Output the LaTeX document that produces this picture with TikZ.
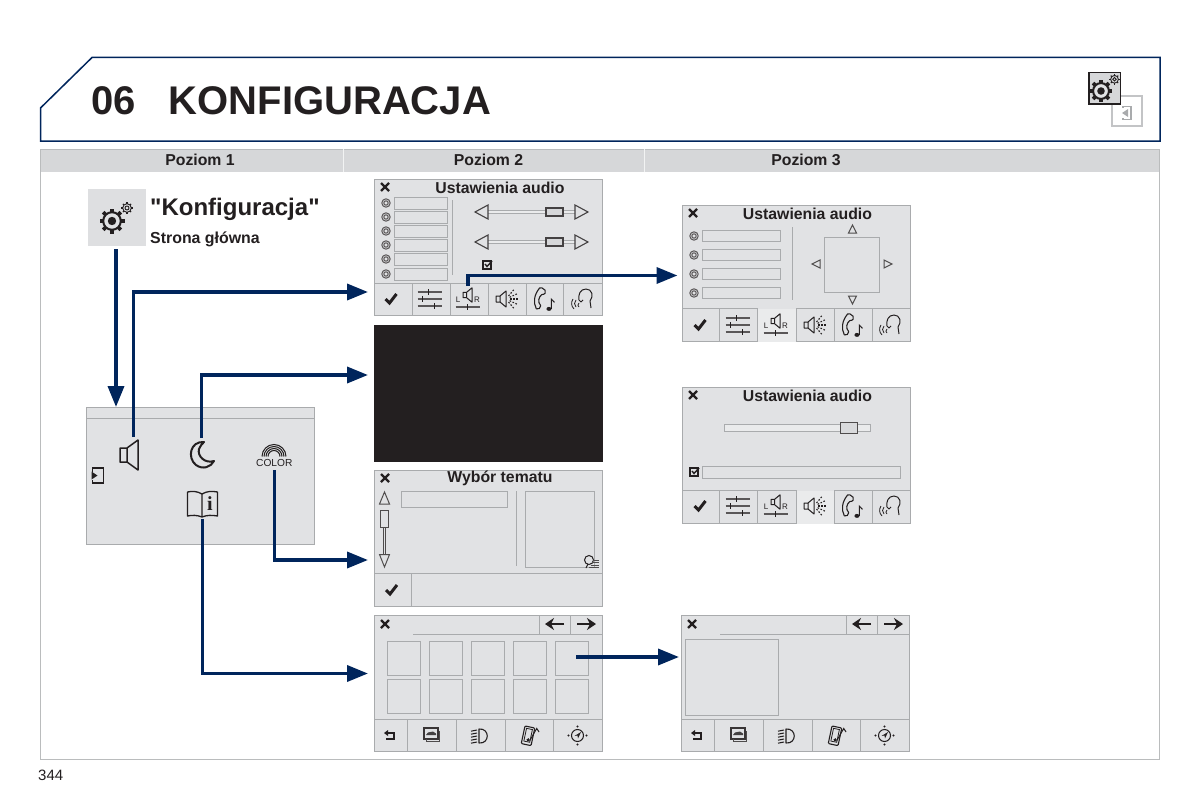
\documentclass[tikz,border=0pt]{standalone}
\usepackage{fontspec}
\setmainfont{Liberation Sans}
\newfontfamily\plainf{Liberation Sans}
\newfontfamily\serifi{Liberation Serif}
\usetikzlibrary{arrows.meta}
\definecolor{panel}{HTML}{E1E2E4}
\definecolor{panelhi}{HTML}{EAEBEC}
\definecolor{frame}{HTML}{A9ABAD}
\definecolor{navy}{HTML}{00255C}
\definecolor{band}{HTML}{D6D7D9}
\definecolor{ink}{HTML}{231F20}
\definecolor{darkscreen}{HTML}{231F20}
\tikzset{
 screenbox/.style={draw=frame,fill=panel,line width=1pt,minimum width=228.5pt,minimum height=136.5pt,anchor=north west,inner sep=0pt,outer sep=0pt},
 flow/.style={draw=navy,line width=3.6pt,-{Triangle[length=21pt,width=16pt]}},
 fine/.style={draw=frame,line width=1pt},
 field/.style={draw=frame,line width=1pt,fill=panel},
 icn/.style={draw=ink,line width=1pt,line join=round},
 title/.style={font=\bfseries\fontsize{15.8}{16}\selectfont,text=ink,inner sep=0pt},
 lab/.style={font=\bfseries\fontsize{15.8}{16}\selectfont,text=ink,inner sep=0pt},
 navarrow/.style={draw=ink,line width=2.4pt,-{Stealth[length=9pt,width=12pt]}}
}
\newcommand\icrossx[2]{\begin{scope}[shift={(#1,#2)}]\draw[ink,line width=2.4pt] (-4,-4)--(4,4) (-4,4)--(4,-4);\end{scope}}
\newcommand\icheckm[2]{\begin{scope}[shift={(#1,#2)}]\draw[ink,line width=3pt,line join=miter] (-5.5,0)--(-1.5,4)--(5.5,-5);\end{scope}}
\newcommand\isliders[2]{\begin{scope}[shift={(#1,#2)}]
 \foreach \yy/\kk in {-7/-1,0/-7,7/5}{\draw[ink!75,line width=2pt] (-12,\yy)--(12,\yy);\draw[ink,line width=1.8pt] (\kk,\yy-3)--(\kk,\yy+3);}
\end{scope}}
\newcommand\ispeaksmall[3]{\begin{scope}[shift={(#1,#2)},scale=#3]
 \draw[icn] (-5,-3)--(-1,-3)--(5,-8)--(5,8)--(-1,3)--(-5,3)--cycle (-1,-3)--(-1,3);
\end{scope}}
\newcommand\ilr[2]{\begin{scope}[shift={(#1,#2)}]
 \ispeaksmall{0}{-4}{0.9}
 \node[font=\fontsize{8}{8}\selectfont,text=ink,inner sep=0pt] at (-9.5,1) {L};
 \node[font=\fontsize{8}{8}\selectfont,text=ink,inner sep=0pt] at (9.5,1) {R};
 \draw[ink!75,line width=2pt] (-12,8)--(12,8);\draw[ink,line width=1.8pt] (0,5)--(0,11);
\end{scope}}
\newcommand\iwaves[2]{\begin{scope}[shift={(#1,#2)}]
 \ispeaksmall{-5}{0}{1}
 \foreach \a in {-50,-25,0,25,50}{\draw[ink,line width=1.1pt,dash pattern=on 1.6pt off 1.6pt] (\a:4)--(\a:13);}
\end{scope}}
\newcommand\iphonen[2]{\begin{scope}[shift={(#1,#2)},scale=1.1]
 \draw[icn,line width=1.1pt] (-4,-10) .. controls (-9,-4) and (-10,3) .. (-7,9) .. controls (-5,10) and (-3,8) .. (-3,6) .. controls (-6,3) and (-5,-2) .. (-2,-4) .. controls (1,-4) and (2,-6) .. (1,-8) .. controls (-1,-10) and (-3,-11) .. (-4,-10) -- cycle;
 \fill[ink] (4.5,9) ellipse (2.3 and 1.8);
 \draw[ink,line width=1pt] (6.6,9)--(6.6,0)--(9.5,3);
\end{scope}}
\newcommand\iheadt[2]{\begin{scope}[shift={(#1,#2)}]
 \draw[icn] (-3,1) .. controls (-4,-4) and (-2,-10) .. (4,-10) .. controls (10,-10) and (12,-3) .. (8,2) -- (9,9) (-3,1) -- (-1,3) -- (1,1);
 \draw[icn,line width=.8pt] (-6,1) .. controls (-8,3) and (-8,6) .. (-6,8) (-9,0) .. controls (-11,3) and (-11,7) .. (-8,10) (-3,4) .. controls (-5,5) and (-4,8) .. (-3,8);
\end{scope}}
\newcommand\iradio[2]{\begin{scope}[shift={(#1,#2)}]\draw[ink!75,line width=1pt] (0,0) circle (4.2) (0,0) circle (2.2);\end{scope}}
\newcommand\icheckbox[2]{\begin{scope}[shift={(#1,#2)}]\draw[ink,line width=1.4pt] (-4,-4) rectangle (4,4);\draw[ink,line width=1.4pt] (-2,-1)--(0,1.5)--(5,-4);\end{scope}}
\newcommand\hslider[2]{\begin{scope}[shift={(#1,#2)}]
 \draw[frame,line width=3.4pt] (13,0)--(100,0);\draw[panelhi,line width=1.4pt] (13,0)--(100,0);
 \draw[ink!85,line width=1.1pt] (13,-7)--(13,7)--(0,0)--cycle;
 \draw[ink!85,line width=1.1pt,fill=panel] (100,-7)--(100,7)--(113,0)--cycle;
 \draw[ink!85,line width=1.1pt,fill=panel!80!frame] (71,-4) rectangle (88,4);
\end{scope}}
\newcommand\iback[2]{\begin{scope}[shift={(#1,#2)}]\draw[ink,line width=1.7pt] (-3,-3)--(4,-3)--(4,3)--(-4,3);\fill[ink] (-6,-3)--(-2,-6)--(-2,0)--cycle;\end{scope}}
\newcommand\icar[2]{\begin{scope}[shift={(#1,#2)}]
 \draw[ink!90,line width=1.1pt] (-7,-6) rectangle (7,5);\draw[ink!80,line width=.8pt] (-5,5)--(-5,7.5)--(8.5,7.5)--(8.5,-3);
 \fill[ink!85] (-5,1)--(-3,-1.5)--(2,-2.5)--(5,-.5)--(5,1)--cycle;
\end{scope}}
\newcommand\ilight[2]{\begin{scope}[shift={(#1,#2)}]
 \draw[icn,line width=1.1pt] (-1,-7) .. controls (10,-8) and (10,8) .. (-1,7) -- cycle;
 \foreach \yy in {-6,-3,0,3,6}{\draw[ink,line width=1pt] (-9,\yy+1.2)--(-3,\yy);}
\end{scope}}
\newcommand\iphonem[2]{\begin{scope}[shift={(#1,#2)},rotate=-12]
 \draw[icn,line width=1.1pt,rounded corners=1pt] (-6,-9) rectangle (4,9);\draw[ink,line width=.8pt] (-4,-7) rectangle (2,6);
 \fill[ink] (0,4) circle (1.8);
 \draw[ink,line width=1pt] (1.8,4)--(6,-9)--(9,-6);
\end{scope}}
\newcommand\icompass[2]{\begin{scope}[shift={(#1,#2)}]
 \draw[ink,line width=1pt] (0,0) circle (6);\fill[ink] (-3,.5)--(3.5,-3.5)--(.5,3)--(0,0)--cycle;
 \foreach \a/\b in {0/-9,0/9,-9/0,9/0}{\fill[ink] (\a,\b) circle (1.1);}
\end{scope}}
\newcommand\igear[3]{\begin{scope}[shift={(#1,#2)}]
 \foreach \a in {0,45,...,315}{\draw[ink,line width=#3*.36pt] (\a:#3*.8)--(\a:#3*1.25);}
 \draw[ink,fill=panel,line width=#3*.2pt] (0,0) circle (#3*.88);
 \fill[ink] (0,0) circle (#3*.42);
\end{scope}}
\newcommand\igears[3]{\begin{scope}[shift={(#1,#2)},scale=#3]
 \igear{0}{0}{10}
 \foreach \a in {0,45,...,315}{\draw[ink,line width=1.1pt] (15,-13)+(\a:4.2)--++(\a:5.8);}
 \draw[ink,line width=.9pt] (15,-13) circle (4.3) (15,-13) circle (2);
 \end{scope}}
\newcommand\iexit[4]{\begin{scope}[shift={(#1,#2)}]
 \draw[#3,line width=#4] (-5,-4)--(-5,-7.5)--(6,-7.5)--(6,7.5)--(-5,7.5)--(-5,4);
 \fill[#3] (-6,-4)--(0,0)--(-6,4)--cycle;
\end{scope}}
\begin{document}
\begin{tikzpicture}[x=1pt,y=-1pt]
\useasboundingbox[fill=white] (0,0) rectangle (1200,800);
% header
\draw[navy,line width=1.5pt] (40.5,141)--(40.5,108)--(92,57.5)--(1160,57.5)--(1160,141)--cycle;
\node[anchor=base west,font=\bfseries\fontsize{40}{40}\selectfont,text=ink,inner sep=0pt] (chapno) at (91.5,114.5) {06};
\node[anchor=base west,font=\bfseries\fontsize{40}{40}\selectfont,text=ink,inner sep=0pt] (chaptitle) at (168.5,114.5) {KONFIGURACJA};
% top right
\draw[frame!70,fill=white,line width=1.6pt] (1112,96) rectangle (1142,126);
\begin{scope}[shift={(1127,113)}]
 \draw[frame,line width=1.1pt] (-4,-5)--(-4,-6.5)--(4,-6.5)--(4,6.5)--(-4,6.5)--(-4,5);
 \fill[frame] (1,-4)--(1,4)--(-5,0)--cycle;
\end{scope}
\draw[ink,fill=band,line width=1.1pt] (1089,72.5) rectangle (1120.5,104);
\igears{1101}{91}{0.9}
% table
\fill[band] (40,149) rectangle (1160,172);
\draw[frame!80,line width=.8pt] (40.4,149)--(40.4,759.6)--(1159.6,759.6)--(1159.6,149)--cycle;
\draw[white!85!frame,line width=.8pt] (343,149)--(343,172) (644,149)--(644,172);
\node[lab] (p1) at (200,160) {Poziom 1};
\node[lab] (p2) at (488.5,160) {Poziom 2};
\node[lab] (p3) at (806,160) {Poziom 3};
% tile
\fill[band!80!white] (88,189) rectangle (146,246);
\igears{112}{221}{1}
\node[anchor=base west,font=\plainf\bfseries\fontsize{24}{24}\selectfont,text=ink,inner sep=0pt] (konf) at (150,215) {"Konfiguracja"};
\node[anchor=base west,font=\bfseries\fontsize{15.9}{16}\selectfont,text=ink,inner sep=0pt] (glow) at (150,243) {Strona główna};
% main panel
\node[screenbox,minimum height=137pt] (main) at (86,407) {};
\draw[fine] (86,418)--(315,418);
\iexit{97.5}{475.5}{ink}{1.4pt}
\draw[icn,line width=1.5pt] (120,448)--(127,448)--(138,440)--(138,470)--(127,462)--(120,462)--cycle (127,448)--(127,462);
\draw[ink,line width=2pt,line join=round] (204,442) .. controls (190,441) and (187,458) .. (196,465) .. controls (203,470) and (211,467) .. (214,461) .. controls (205,464) and (197,456) .. (199,449) .. controls (200,446) and (202,444) .. (204,442) -- cycle;
\foreach \r in {6,8,10,12}{\draw[ink,line width=1pt] (274-\r,456.5) arc (180:360:\r);}
\node[font=\fontsize{10.2}{10}\selectfont,text=ink,inner sep=0pt] (colortxt) at (274.3,462.5) {COLOR};
\draw[ink,line width=1.3pt,line join=round] (202,494) .. controls (197,491) and (192,491) .. (187.5,492) -- (187.5,516) .. controls (192,515) and (197,515) .. (202,517) .. controls (207,515) and (212,515) .. (217.5,516) -- (217.5,492) .. controls (212,491) and (207,491) .. (202,494) -- (202,517);
\node[font=\serifi\bfseries\fontsize{20}{20}\selectfont,text=ink,inner sep=0pt] (infoi) at (209.8,504) {i};
% screens
\node[screenbox] (s1) at (374,179) {};
\node[screenbox,fill=darkscreen,draw=darkscreen] (s2) at (374,325) {};
\node[screenbox] (s3) at (374,470) {};
\node[screenbox] (s4) at (374,615) {};
\node[screenbox] (s5) at (682,205) {};
\node[screenbox] (s6) at (682,387) {};
\node[screenbox] (s7) at (681,615) {};
% S1
\icrossx{385}{187}
\node[title] at (500,187.5) {Ustawienia audio};
\foreach \yy in {203,217,231,245,259,274}{\iradio{386}{\yy}\draw[field] (394.5,\yy-6) rectangle (447,\yy+6);}
\draw[fine] (452.5,200)--(452.5,275);
\hslider{475}{212}\hslider{475}{242}
\icheckbox{487}{265}
\draw[fine] (374,283)--(603,283);
\foreach \xx in {412,450,488,526,563}{\draw[fine] (\xx,283)--(\xx,315);}
\icheckm{391}{299}\isliders{429.5}{299}\ilr{467.5}{299}\iwaves{506}{299}\iphonen{544}{299}\iheadt{582}{299}
% S3
\icrossx{385}{478}
\node[title] at (500,478.5) {Wybór tematu};
\draw[ink!80,line width=1pt] (384.5,492)--(379.5,504)--(389.5,504)--cycle;
\draw[ink!80,line width=1pt] (383.5,528)--(383.5,554);\draw[ink!80,line width=1pt] (385.6,528)--(385.6,554);
\draw[ink!80,line width=1pt] (380.5,510.5) rectangle (388,527);
\draw[ink!80,line width=1pt] (384.5,567)--(379.5,554.5)--(389.5,554.5)--cycle;
\draw[field] (401.5,491.5) rectangle (507,507);
\draw[fine] (516,491)--(516,566);
\draw[field] (525.5,491.5) rectangle (594,567);
\begin{scope}[shift={(589,560)}]
 \draw[ink,line width=1pt,fill=panel] (0,0) circle (4.5);
 \draw[ink,line width=1pt] (-1,4)--(-3,8);
 \foreach \yy in {0,2.5,5,7.5}{\draw[ink!80,line width=.8pt] (4-\yy/2,\yy)--(10,\yy);}
\end{scope}
\draw[fine] (374,573.5)--(603,573.5) (411.5,573.5)--(411.5,607);
\icheckm{391.5}{590}
% S4
\icrossx{385}{624}
\draw[fine] (413,634)--(603,634) (539,615)--(539,634) (570,615)--(570,634);
\draw[navarrow] (564,624)--(545,624);
\draw[navarrow] (577,624)--(596,624);
\foreach \xx in {387,429,471,513,555}\foreach \yy in {641,679}{\draw[fine] (\xx,\yy) rectangle (\xx+33.5,\yy+34);}
\draw[fine] (374,719)--(603,719);
\foreach \xx in {407,456,505,553}{\draw[fine] (\xx,719)--(\xx,752);}
\iback{390}{736}\icar{431}{734}\ilight{480}{736}\iphonem{529}{736}\icompass{577.5}{735.5}
% S5
\icrossx{693}{213}
\node[title] at (807.5,214) {Ustawienia audio};
\foreach \yy in {236,255,274,293}{\iradio{694}{\yy}\draw[field] (702,\yy-5.5) rectangle (780,\yy+5.5);}
\draw[fine] (792.5,227)--(792.5,300);
\draw[field] (824.5,237) rectangle (879.5,292);
\draw[ink!80,line width=1pt] (852.5,225)--(848.5,233)--(856.5,233)--cycle (852.5,304)--(848.5,296)--(856.5,296)--cycle (812,264)--(820,260)--(820,268)--cycle (892,264)--(884,260)--(884,268)--cycle;
\fill[panelhi] (757.5,308.5) rectangle (795.5,341.5);
\draw[fine] (682,308)--(757,308) (796,308)--(911,308);
\foreach \xx in {719,757,796,834,872}{\draw[fine] (\xx,308)--(\xx,342);}
\icheckm{700}{325}\isliders{737.5}{325}\ilr{775.5}{325}\iwaves{814}{325}\iphonen{852}{325}\iheadt{890}{325}
% S6
\icrossx{693}{395}
\node[title] at (807.5,395.5) {Ustawienia audio};
\draw[frame,line width=1pt,fill=panelhi] (724.5,424.5) rectangle (870.5,431.5);
\draw[ink!80,line width=1.1pt,fill=panel!85!frame] (840.5,422.5) rectangle (857.5,433.5);
\icheckbox{694}{472}
\draw[field] (702,466.5) rectangle (900.5,478);
\fill[panelhi] (796.5,490.5) rectangle (833.5,523.5);
\draw[fine] (682,490)--(796,490) (834,490)--(911,490);
\foreach \xx in {719,757,796,834,872}{\draw[fine] (\xx,490)--(\xx,524);}
\icheckm{700}{506}\isliders{737.5}{506}\ilr{775.5}{506}\iwaves{814}{506}\iphonen{852}{506}\iheadt{890}{506}
% S7
\icrossx{692}{624}
\draw[fine] (720,634)--(910,634) (846,615)--(846,634) (877,615)--(877,634);
\draw[navarrow] (871,624)--(852,624);
\draw[navarrow] (884,624)--(903,624);
\draw[fine] (685.5,639.5) rectangle (778.5,715);
\draw[fine] (681,719)--(910,719);
\foreach \xx in {714,763,812,860}{\draw[fine] (\xx,719)--(\xx,752);}
\iback{697}{736}\icar{738}{734}\ilight{787}{736}\iphonem{836}{736}\icompass{884.5}{735.5}
% connector ends
\coordinate (aStart) at (116,249);
\coordinate (aEnd) at (116,407);
\coordinate (bStart) at (133.5,437);
\coordinate (bEnd) at (368,292);
\coordinate (cStart) at (201.5,438);
\coordinate (cEnd) at (368,375);
\coordinate (dStart) at (274.5,470);
\coordinate (dEnd) at (368,560);
\coordinate (eStart) at (202.5,519);
\coordinate (eEnd) at (368,673.5);
\coordinate (fStart) at (468,286);
\coordinate (fEnd) at (677.5,275.5);
\coordinate (gStart) at (576,657);
\coordinate (gEnd) at (679,657);
\draw[flow] (aStart)--(aEnd);
\draw[flow] (bStart) |- (bEnd);
\draw[flow] (cStart) |- (cEnd);
\draw[flow] (dStart) |- (dEnd);
\draw[flow] (eStart) |- (eEnd);
\draw[flow] (fStart) |- (fEnd);
\draw[flow] (gStart)--(gEnd);
\node[anchor=base west,font=\fontsize{15}{15}\selectfont,text=ink,inner sep=0pt] (pageno) at (38,780) {344};
\end{tikzpicture}
\end{document}
